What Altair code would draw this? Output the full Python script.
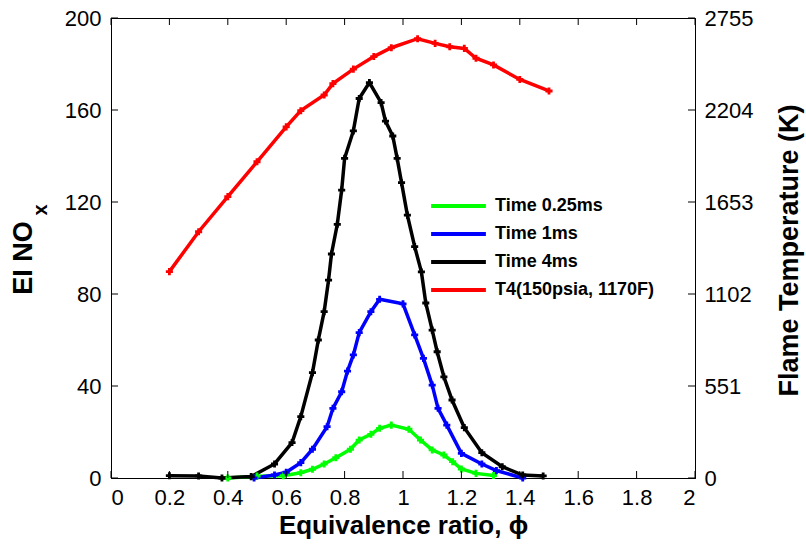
import altair as alt
import pandas as pd

# ---- data ----
series_names = ["Time 0.25ms", "Time 1ms", "Time 4ms", "T4(150psia, 1170F)"]
series_colors = ["#00ff00", "#0000ff", "#000000", "#ff0000"]

phi_025 = [0.40, 0.50, 0.59, 0.65, 0.69, 0.73, 0.77, 0.82, 0.85, 0.89, 0.92, 0.96,
           1.02, 1.06, 1.10, 1.14, 1.17, 1.20, 1.25, 1.31]
ei_025 = [0.0, 0.8, 1.0, 2.3, 3.8, 6.1, 8.8, 12.5, 16.5, 19.0, 21.6, 23.0,
          21.2, 16.5, 12.2, 10.0, 7.1, 3.9, 2.0, 1.1]

phi_1 = [0.49, 0.56, 0.60, 0.65, 0.69, 0.74, 0.76, 0.79, 0.81, 0.83, 0.85, 0.89, 0.92,
         1.00, 1.04, 1.07, 1.10, 1.12, 1.15, 1.20, 1.27, 1.32, 1.41]
ei_1 = [0.0, 1.3, 2.5, 6.7, 12.5, 22.3, 30.3, 37.5, 46.5, 53.5, 63.2, 72.3, 77.7,
        75.7, 62.2, 52.0, 40.4, 30.3, 23.0, 10.7, 6.1, 3.2, 0.0]

phi_4 = [0.20, 0.30, 0.38, 0.48, 0.56, 0.62, 0.65, 0.69, 0.71, 0.73, 0.745, 0.755,
         0.775, 0.79, 0.80, 0.83, 0.85, 0.885, 0.925, 0.94, 0.965, 0.98, 0.995, 1.015,
         1.04, 1.063, 1.078, 1.10, 1.117, 1.14, 1.168, 1.21, 1.27, 1.34, 1.41, 1.48]
ei_4 = [1.0, 0.9, 0.0, 0.6, 6.1, 15.4, 26.7, 45.8, 60.0, 72.3, 86.0, 97.4,
        110.3, 125.2, 139.0, 150.9, 165.0, 171.9, 163.2, 155.2, 148.7, 139.0, 128.4, 114.3,
        100.6, 89.6, 76.1, 64.3, 54.9, 44.0, 33.9, 21.9, 11.0, 4.9, 1.3, 0.9]

phi_t4 = [0.20, 0.30, 0.40, 0.50, 0.60, 0.65, 0.73, 0.76, 0.83, 0.90, 0.96, 1.05,
          1.11, 1.16, 1.21, 1.25, 1.31, 1.40, 1.50]
temp_t4 = [1236, 1475, 1685, 1894, 2103, 2200, 2294, 2362, 2449, 2524, 2577, 2631,
           2603, 2583, 2573, 2514, 2474, 2387, 2318]

x_ticks = [0, 0.2, 0.4, 0.6, 0.8, 1.0, 1.2, 1.4, 1.6, 1.8, 2.0]
left_ticks = [0, 40, 80, 120, 160, 200]
right_ticks = [0, 551, 1102, 1653, 2204, 2755]

left_title_main = ["EI NO"]
left_title_sub = ["x"]

W, H = 584, 460
FONT = "Liberation Sans"

rows = []
for name, xs, ys in [(series_names[0], phi_025, ei_025),
                     (series_names[1], phi_1, ei_1),
                     (series_names[2], phi_4, ei_4)]:
    for i, (a, b) in enumerate(zip(xs, ys)):
        rows.append({"series": name, "phi": a, "ei": b, "order": i})
df_left = pd.DataFrame(rows)
df_right = pd.DataFrame({"series": series_names[3], "phi": phi_t4, "temp": temp_t4,
                         "order": list(range(len(phi_t4)))})

color = alt.Color("series:N",
                  scale=alt.Scale(domain=series_names, range=series_colors),
                  legend=alt.Legend(title=None, orient="none", legendX=318, legendY=178,
                                    symbolType="stroke", symbolSize=3000,
                                    symbolStrokeWidth=4, labelFont=FONT,
                                    labelFontSize=18, labelFontWeight="bold",
                                    labelColor="black", rowPadding=8, labelOffset=7,
                                    clipHeight=20, labelLimit=300))

x_enc = alt.X("phi:Q", scale=alt.Scale(domain=[0, 2], nice=False),
              axis=alt.Axis(values=x_ticks, format=".1~f", title="Equivalence ratio, ϕ",
                            ticks=False, labelPadding=9, titlePadding=4))

y_left = alt.Y("ei:Q", scale=alt.Scale(domain=[0, 200], nice=False),
               axis=alt.Axis(values=left_ticks, format="d", title=None, ticks=False,
                             labelPadding=10))
y_right = alt.Y("temp:Q", scale=alt.Scale(domain=[0, 2755], nice=False),
                axis=alt.Axis(values=right_ticks, format="d", orient="right",
                              title="Flame Temperature (K)", ticks=False,
                              labelPadding=9, titleX=94, titleY=H / 2 + 2,
                              titleFontSize=27,
                              titleAngle=270, titleAlign="center", titleBaseline="middle"))

left_lines = alt.Chart(df_left).mark_line(strokeWidth=3.5).encode(
    x=x_enc, y=y_left, color=color, order="order:Q")
left_pts = alt.Chart(df_left).mark_point(shape="cross", filled=True, size=50, opacity=1).encode(
    x="phi:Q", y="ei:Q", color=alt.Color("series:N", legend=None))

right_line = alt.Chart(df_right).mark_line(strokeWidth=3.5).encode(
    x="phi:Q", y=y_right, color=color, order="order:Q")
right_pts = alt.Chart(df_right).mark_point(shape="cross", filled=True, size=50, opacity=1).encode(
    x="phi:Q", y="temp:Q", color=alt.Color("series:N", legend=None))

df_xt = pd.DataFrame({"phi": x_ticks})
df_lt = pd.DataFrame({"ei": left_ticks})
df_rt = pd.DataFrame({"temp": right_ticks})

bottom_ticks = alt.Chart(df_xt).mark_rule(color="black", strokeWidth=1).encode(
    x="phi:Q", y=alt.value(H), y2=alt.value(H - 7))
top_ticks = alt.Chart(df_xt).mark_rule(color="black", strokeWidth=1).encode(
    x="phi:Q", y=alt.value(0), y2=alt.value(7))
lt_ticks = alt.Chart(df_lt).mark_rule(color="black", strokeWidth=1).encode(
    y="ei:Q", x=alt.value(0), x2=alt.value(7))
rt_ticks = alt.Chart(df_rt).mark_rule(color="black", strokeWidth=1).encode(
    y="temp:Q", x=alt.value(W), x2=alt.value(W - 7))

title_main = alt.Chart(pd.DataFrame({"t": left_title_main})).mark_text(
    angle=270, font=FONT, fontSize=27, fontWeight="bold", color="black",
    align="center", baseline="middle").encode(
    text="t:N", x=alt.value(-87), y=alt.value(240))
title_sub = alt.Chart(pd.DataFrame({"t": left_title_sub})).mark_text(
    angle=270, font=FONT, fontSize=20, fontWeight="bold", color="black",
    align="center", baseline="middle").encode(
    text="t:N", x=alt.value(-70), y=alt.value(192))

left = alt.layer(left_lines, left_pts, lt_ticks, bottom_ticks, top_ticks,
                 title_main, title_sub)
right = alt.layer(right_line, right_pts, rt_ticks)

chart = alt.layer(left, right).resolve_scale(y="independent").properties(
    width=W, height=H,
    background="white",
    autosize=alt.AutoSizeParams(type="none"),
    padding={"left": 111, "top": 18, "right": 111, "bottom": 69},
).configure_view(stroke="black", strokeWidth=1).configure_axis(
    labelFont=FONT, labelFontSize=22, labelColor="black",
    titleFont=FONT, titleFontSize=26, titleFontWeight="bold", titleColor="black",
    domainColor="black", grid=False,
)

chart.save("out.html", embed_options={"renderer": "svg", "actions": False})
